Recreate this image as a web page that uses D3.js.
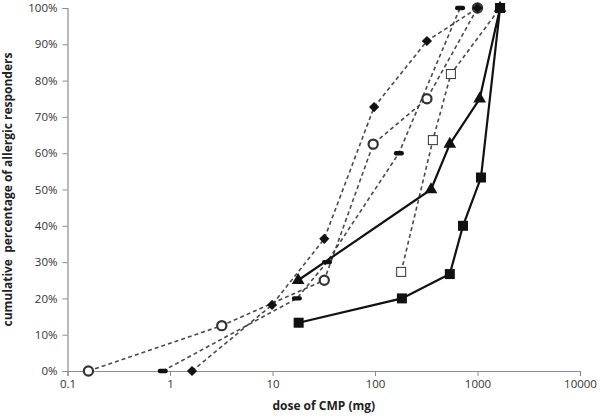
<!DOCTYPE html>
<html>
<head>
<meta charset="utf-8">
<script src="https://cdn.jsdelivr.net/npm/d3@7"></script>
<style>
  html, body { margin: 0; padding: 0; background: #fff; }
  svg { display: block; }
</style>
</head>
<body>
<svg id="chart" width="600" height="420"></svg>
<script>
// ---- data (dose in mg, cumulative % of responders) ----
const xTicks = [0.1, 1, 10, 100, 1000, 10000];
const xTickLabels = ["0.1", "1", "10", "100", "1000", "10000"];
const yTicks = [0, 10, 20, 30, 40, 50, 60, 70, 80, 90, 100];

const squareDose = [18, 183, 537, 722, 1081, 1660];
const squarePct  = [13.3, 20, 26.7, 40, 53.3, 100];

const triangleDose = [17.8, 352, 537, 1050, 1660];
const trianglePct  = [25, 50, 62.5, 75, 100];

const circleDose = [0.16, 3.2, 32, 96, 321, 1000];
const circlePct  = [0, 12.5, 25, 62.5, 75, 100];

const diamondDose = [1.64, 9.9, 32, 98, 321, 1000];
const diamondPct  = [0, 18.2, 36.4, 72.7, 90.9, 100];

const dashDose = [0.85, 17.3, 34, 171, 676];
const dashPct  = [0, 20, 30, 60, 100];

const openSquareDose = [180, 367, 550, 1660];
const openSquarePct  = [27.3, 63.6, 81.8, 100];

// ---- layout ----
const svg = d3.select("#chart");
const x = d3.scaleLog().domain([0.1, 10000]).range([67.5, 580]);
const y = d3.scaleLinear().domain([0, 100]).range([371, 8]);
const font = "'Open Sans', 'Liberation Sans', sans-serif";

// axes
const xAxis = d3.axisBottom(x).tickValues(xTicks)
  .tickFormat((d, i) => xTickLabels[i]).tickSize(5).tickPadding(4);
const yAxis = d3.axisLeft(y).tickValues(yTicks)
  .tickFormat(d => d + "%").tickSize(5).tickPadding(5);

const gx = svg.append("g").attr("transform", `translate(0,${y(0)})`).call(xAxis);
const gy = svg.append("g").attr("transform", `translate(${x(0.1)},0)`).call(yAxis);
[gx, gy].forEach(g => {
  g.select(".domain").attr("stroke", "#8c8c8c").attr("stroke-width", 1.2);
  g.selectAll(".tick line").attr("stroke", "#8c8c8c");
  g.selectAll(".tick text").attr("font-family", font).attr("font-size", 11.5).attr("fill", "#333");
});

// axis titles
svg.append("text")
  .attr("x", (x(0.1) + x(10000)) / 2).attr("y", 410)
  .attr("text-anchor", "middle")
  .attr("font-family", font).attr("font-size", 12).attr("font-weight", "bold").attr("fill", "#222")
  .text("dose of CMP (mg)");
svg.append("text")
  .attr("transform", `translate(12,${(y(0) + y(100)) / 2}) rotate(-90)`)
  .attr("text-anchor", "middle")
  .attr("font-family", font).attr("font-size", 12).attr("font-weight", "bold").attr("fill", "#222")
  .style("white-space", "pre")
  .text("cumulative  percentage of allergic responders");

const line = d3.line().x(d => x(d[0])).y(d => y(d[1]));
const zip = (a, b) => a.map((v, i) => [v, b[i]]);

const series = [
  { pts: zip(dashDose, dashPct), kind: "dash", solid: false },
  { pts: zip(openSquareDose, openSquarePct), kind: "openSquare", solid: false },
  { pts: zip(circleDose, circlePct), kind: "circle", solid: false },
  { pts: zip(diamondDose, diamondPct), kind: "diamond", solid: false },
  { pts: zip(triangleDose, trianglePct), kind: "triangle", solid: true },
  { pts: zip(squareDose, squarePct), kind: "square", solid: true }
];

// lines
series.forEach(s => {
  svg.append("path").datum(s.pts).attr("d", line)
    .attr("fill", "none")
    .attr("stroke", s.solid ? "#111" : "#4a4a4a")
    .attr("stroke-width", s.solid ? 2.2 : 1.6)
    .attr("stroke-dasharray", s.solid ? null : "4,3");
});

// markers
const sym = (type, size) => d3.symbol().type(type).size(size)();
series.forEach(s => {
  const g = svg.append("g");
  s.pts.forEach(p => {
    const cx = x(p[0]), cy = y(p[1]);
    if (s.kind === "square") {
      g.append("rect").attr("x", cx - 5).attr("y", cy - 5).attr("width", 10).attr("height", 10).attr("fill", "#111");
    } else if (s.kind === "triangle") {
      g.append("path").attr("d", sym(d3.symbolTriangle, 70)).attr("transform", `translate(${cx},${cy})`).attr("fill", "#111");
    } else if (s.kind === "circle") {
      g.append("circle").attr("cx", cx).attr("cy", cy).attr("r", 4.6).attr("fill", "#fff").attr("stroke", "#333").attr("stroke-width", 2.2);
    } else if (s.kind === "diamond") {
      g.append("rect").attr("x", -3.6).attr("y", -3.6).attr("width", 7.2).attr("height", 7.2)
        .attr("transform", `translate(${cx},${cy}) rotate(45)`).attr("fill", "#111");
    } else if (s.kind === "dash") {
      g.append("rect").attr("x", cx - 5).attr("y", cy - 2.2).attr("width", 10).attr("height", 4.4).attr("rx", 2).attr("fill", "#111");
    } else if (s.kind === "openSquare") {
      g.append("rect").attr("x", cx - 4.5).attr("y", cy - 4.5).attr("width", 9).attr("height", 9).attr("fill", "#fff").attr("stroke", "#333").attr("stroke-width", 1);
    }
  });
});
</script>
</body>
</html>
